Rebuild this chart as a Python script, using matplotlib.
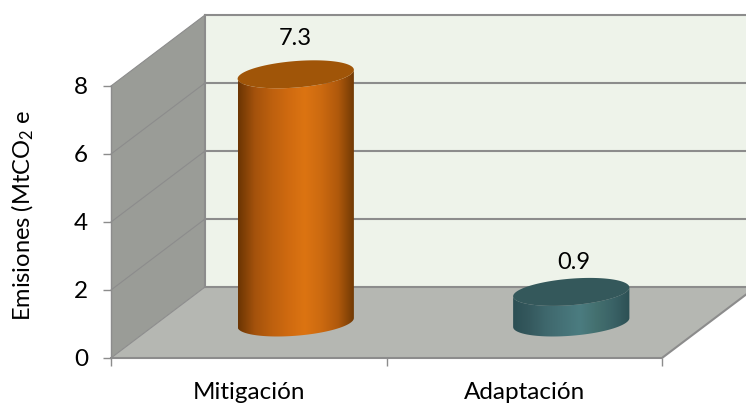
import numpy as np
import matplotlib
matplotlib.use('Agg')
import matplotlib.pyplot as plt
from matplotlib.colors import LinearSegmentedColormap
from matplotlib.patches import Polygon

categories = ['Mitigación', 'Adaptación']
values = [7.3, 0.9]
label_offsets = [(0, 36), (3, 29)]
y_ticks = [0, 2, 4, 6, 8]

orange = ['#6b3503', '#a4520c', '#bd600e', '#cf6a10', '#dc7412', '#cc6a10', '#b0590c', '#6e3804']
teal = ['#2c4f54', '#35595e', '#3f686d', '#457277', '#4b7c80', '#44706f', '#3a6266', '#2d5054']
tops = ['#a05508', '#34585b']

plt.rcParams['font.family'] = ['Lato', 'DejaVu Sans']
plt.rcParams['mathtext.default'] = 'regular'

fig = plt.figure(figsize=(7.46, 4.05), dpi=100)
ax = fig.add_axes([111 / 746, 47 / 405, 551 / 746, 272 / 405])
ax.set_xlim(0, 2)
ax.set_ylim(0, 8)

# depth of the fake 3d box, in data units
dx = 94 / 275.5
dy = 71 / 34
grid_col = '#8c8c8c'


def box(points, color, z):
    ax.add_patch(Polygon(points, closed=True, facecolor=color, edgecolor='none', zorder=z, clip_on=False))


box([(dx, dy), (2 + dx, dy), (2 + dx, 8 + dy), (dx, 8 + dy)], '#eef3ea', 1)
box([(0, 0), (dx, dy), (dx, 8 + dy), (0, 8)], '#9a9c97', 1)
box([(0, 0), (2, 0), (2 + dx, dy), (dx, dy)], '#b5b7b2', 1)

for t in y_ticks:
    ax.plot([0, dx], [t, t + dy], color=grid_col, lw=0.8, zorder=2, clip_on=False)
    ax.plot([dx, 2 + dx], [t + dy, t + dy], color=grid_col, lw=1.5, zorder=2, clip_on=False)
ax.plot([dx, dx], [dy, 8 + dy], color=grid_col, lw=1.5, zorder=2, clip_on=False)
ax.plot([0, 2, 2 + dx], [0, 0, dy], color=grid_col, lw=1.5, zorder=2, clip_on=False)
ax.plot([0, 0], [0, 8], color=grid_col, lw=1.0, zorder=2, clip_on=False)

# cylinders
w = 0.2
rx = 0.197 * dx
ry = 0.197 * dy
t0 = np.arctan2(rx, w)
for i, v in enumerate(values):
    cx = i + 0.5 + dx / 2
    cy = dy / 2
    t = np.linspace(np.pi + t0, 2 * np.pi + t0, 80)
    ax_x = cx + w * np.cos(t) + rx * np.sin(t)
    ax_y = cy + ry * np.sin(t)
    side = np.column_stack([np.r_[ax_x, ax_x[::-1]], np.r_[ax_y, ax_y[::-1] + v]])
    cols = orange if i == 0 else teal
    cmap = LinearSegmentedColormap.from_list('c', cols)
    im = ax.imshow(np.linspace(0, 1, 256).reshape(1, -1), cmap=cmap, aspect='auto', zorder=3,
                   extent=(ax_x.min(), ax_x.max(), 0, v + 2 * dy), interpolation='bilinear')
    im.set_clip_path(Polygon(side, closed=True, transform=ax.transData))
    im.set_clip_box(fig.bbox)
    t = np.linspace(0, 2 * np.pi, 160)
    box(np.column_stack([cx + w * np.cos(t) + rx * np.sin(t), cy + v + ry * np.sin(t)]), tops[i], 4)
    ax.annotate(str(v), xy=(cx, cy + v), xytext=label_offsets[i], textcoords='offset pixels',
                ha='center', va='center', fontsize=17, color='black', zorder=5, annotation_clip=False)

ax.set_xlim(0, 2)
ax.set_ylim(0, 8)
for s in ax.spines.values():
    s.set_visible(False)
ax.set_yticks(y_ticks)
ax.set_xticks([0, 1, 2])
ax.set_xticklabels([])
ax.set_xticks([0.5, 1.5], minor=True)
ax.set_xticklabels(categories, minor=True)
ax.tick_params(axis='x', which='major', length=5.5, width=1, color=grid_col)
ax.tick_params(axis='x', which='minor', length=0, pad=17.5, labelsize=17.5)
ax.tick_params(axis='y', length=5.5, width=1, color=grid_col, pad=11, labelsize=17.5)
fig.text(23 / 746, 1 - 215 / 405, 'Emisiones (MtCO$_2$ e', rotation=90, ha='center', va='center', fontsize=17)

fig.savefig('out.png', dpi=100)
